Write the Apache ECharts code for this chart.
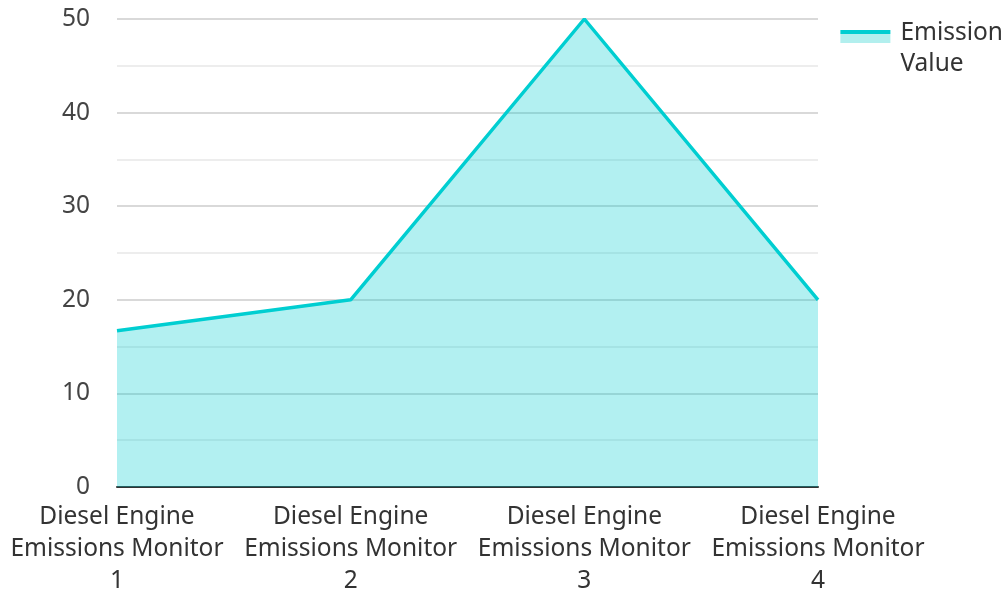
<!DOCTYPE html>
<html><head><meta charset="utf-8">
<script src="https://cdn.jsdelivr.net/npm/echarts@6/dist/echarts.min.js"></script>
<style>html,body{margin:0;padding:0;background:#fff}#c{width:1008px;height:589px}</style>
</head><body><div id="c"></div>
<script>
const categories = ['Diesel Engine Emissions Monitor 1','Diesel Engine Emissions Monitor 2','Diesel Engine Emissions Monitor 3','Diesel Engine Emissions Monitor 4'];
const emissionValues = [16.7, 20, 50, 20];
const seriesName = 'Emission Value';
const chart = echarts.init(document.getElementById('c'));
const font = '"Noto Sans", "Open Sans", sans-serif';
const T = 'rgba(0,0,0,0)';
chart.setOption({
  animation: false,
  textStyle: {fontFamily: font},
  grid: {left: 117, right: 190, top: 19, bottom: 102, outerBoundsMode: 'none', containLabel: false},
  legend: {
    right: 0, top: 13, orient: 'vertical',
    icon: 'rect',
    itemWidth: 50, itemHeight: 62, itemGap: 10,
    formatter: name => name.replace(' ', '\n'),
    itemStyle: {color: new echarts.graphic.LinearGradient(0, 0, 0, 1, [
      {offset: 0, color: T}, {offset: 0.2, color: T},
      {offset: 0.2, color: '#00CED1'}, {offset: 0.265, color: '#00CED1'},
      {offset: 0.265, color: '#b2efee'}, {offset: 0.41, color: '#b2efee'},
      {offset: 0.41, color: T}, {offset: 1, color: T}])},
    textStyle: {fontSize: 24.5, color: '#333', fontFamily: font, lineHeight: 31, padding: [0, 0, 0, 5]}
  },
  xAxis: {
    type: 'category', data: categories, boundaryGap: false,
    axisLine: {lineStyle: {color: '#333', width: 2}},
    axisTick: {show: false},
    axisLabel: {fontSize: 24.5, color: '#333', lineHeight: 32, margin: 14, interval: 0,
      formatter: v => v.replace(' Engine ', ' Engine\n').replace(/ (\d+)$/, '\n$1')},
    splitLine: {show: false}
  },
  yAxis: {
    type: 'value', min: 0, max: 50, interval: 10,
    axisLine: {show: false}, axisTick: {show: false},
    axisLabel: {fontSize: 24.5, color: '#444', margin: 27},
    splitLine: {lineStyle: {color: '#ccc', width: 1.5}},
    minorTick: {show: false, splitNumber: 2},
    minorSplitLine: {show: true, lineStyle: {color: '#e8e8e8', width: 1.5}}
  },
  series: [{
    name: seriesName, type: 'line', data: emissionValues,
    symbol: 'none',
    lineStyle: {color: '#00CED1', width: 3.5},
    itemStyle: {color: '#00CED1'},
    areaStyle: {color: '#00CED1', opacity: 0.3}
  }]
});
</script></body></html>
